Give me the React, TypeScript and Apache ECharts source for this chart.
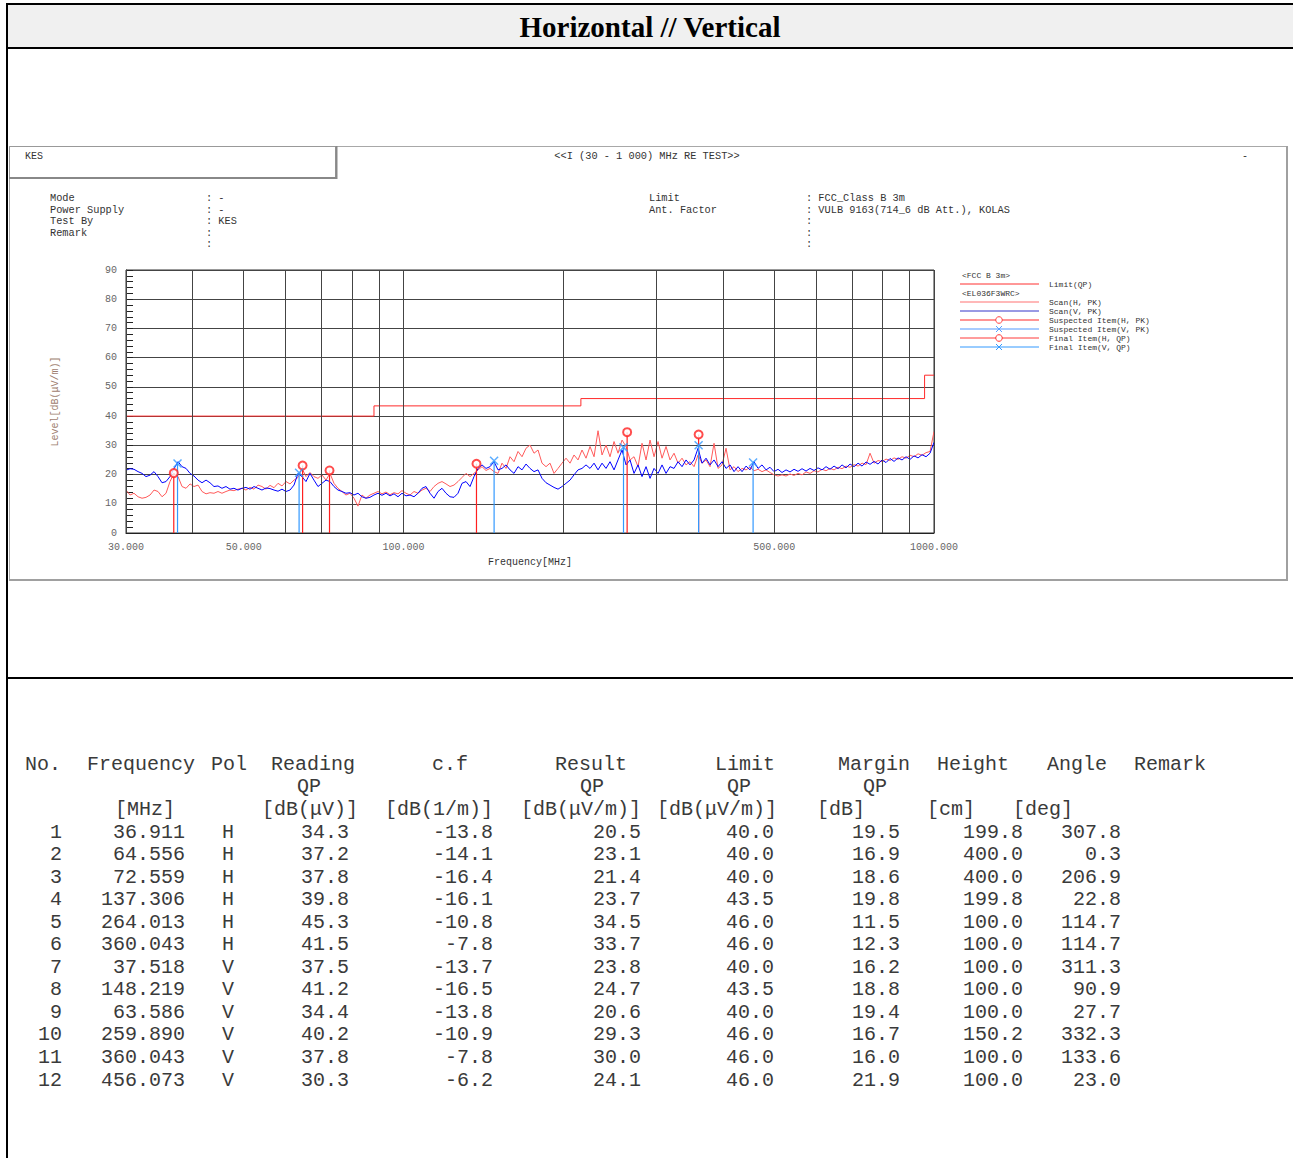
import { useEffect, useRef } from 'react';
import * as echarts from 'echarts';

// ---- scan traces (MHz / dB(μV/m)) ----
const scanFreq = [
  30.00, 30.53, 31.06, 31.61, 32.16, 32.72, 33.30, 33.88, 34.47, 35.08,
  35.69, 36.31, 36.95, 37.60, 38.26, 38.93, 39.61, 40.30, 41.01, 41.73,
  42.46, 43.19, 43.95, 44.72, 45.50, 46.30, 47.11, 47.93, 48.77, 49.62,
  50.49, 51.39, 52.29, 53.20, 54.13, 55.08, 56.05, 57.03, 58.03, 59.04,
  60.07, 61.13, 62.20, 63.28, 64.39, 65.52, 66.66, 67.83, 69.02, 70.22,
  71.46, 72.71, 73.98, 75.27, 76.59, 77.93, 79.30, 80.69, 82.10, 83.54,
  85.00, 86.49, 88.01, 89.55, 91.12, 92.71, 94.34, 95.99, 97.67, 99.38,
  101.12, 102.90, 104.70, 106.53, 108.40, 110.30, 112.23, 114.20, 116.20, 118.23,
  120.30, 122.41, 124.55, 126.73, 128.95, 131.21, 133.51, 135.85, 138.23, 140.65,
  143.11, 145.62, 148.17, 150.76, 153.40, 156.09, 158.82, 161.60, 164.43, 167.31,
  170.24, 173.22, 176.26, 179.34, 182.48, 185.68, 188.93, 192.24, 195.61, 199.03,
  202.52, 206.07, 209.67, 213.35, 217.08, 220.88, 224.75, 228.69, 232.69, 236.77,
  240.91, 245.13, 249.43, 253.79, 258.24, 262.76, 267.36, 272.04, 276.81, 281.65,
  286.59, 291.61, 296.71, 301.91, 307.20, 312.58, 318.05, 323.62, 329.29, 335.05,
  340.92, 346.89, 352.96, 359.14, 365.43, 371.83, 378.34, 384.97, 391.71, 398.57,
  405.55, 412.65, 419.88, 427.23, 434.71, 442.32, 450.07, 457.95, 465.97, 474.13,
  482.44, 490.89, 499.48, 508.23, 517.13, 526.18, 535.40, 544.78, 554.32, 564.02,
  573.90, 583.95, 594.18, 604.58, 615.17, 625.94, 636.90, 648.06, 659.41, 670.95,
  682.70, 694.66, 706.82, 719.20, 731.79, 744.61, 757.65, 770.91, 784.41, 798.15,
  812.12, 826.34, 840.82, 855.54, 870.52, 885.77, 901.28, 917.06, 933.12, 949.46,
  966.08, 983.00, 1000.0,
];

const scanH = [
  14.7, 13, 13.6, 12.4, 11.9, 12.2, 13, 14.7, 14.2, 12.4,
  13.6, 17.6, 20.4, 19.3, 15.9, 15.3, 16.8, 15.9, 16.4, 14.2,
  13.4, 13.8, 13.6, 14.2, 13.6, 14.2, 14.7, 14.5, 15, 15.3,
  14.7, 15.6, 15, 16.4, 15.9, 15, 16.3, 15.5, 17, 16.1,
  17.6, 16.8, 18.1, 19, 22.1, 19.3, 20.7, 19.3, 18.7, 19.9,
  18.1, 20.4, 17, 15.3, 14.2, 13, 13.6, 11.9, 9.2, 13,
  11.9, 13, 13.6, 14.2, 13.4, 14, 13.1, 13.8, 13.4, 14.5,
  13.6, 13, 14.2, 13.6, 14.7, 15.3, 14.2, 15.9, 17, 17.6,
  16.8, 15.9, 16.4, 17.6, 19, 20.4, 19.3, 20.4, 21.6, 22.7,
  21.4, 22.1, 21, 20.4, 23.9, 22.1, 26.1, 24.4, 27.9, 26.1,
  29, 30.1, 27.3, 28.4, 23.9, 22.7, 23.9, 20.4, 22.1, 23.9,
  25.6, 23.9, 26.7, 25, 28.4, 25.6, 29.6, 26.1, 35, 26.7,
  30.1, 26.1, 31.3, 27.3, 31.8, 29.6, 25, 26.1, 22.7, 30.7,
  25, 31.8, 26.1, 31.3, 25.6, 29.6, 25, 27.3, 23.9, 25.6,
  23.3, 24.4, 22.7, 26.7, 23.9, 25, 22.7, 30.7, 22.1, 23.3,
  29, 21.6, 22.7, 21, 22.1, 21.6, 22.5, 21.3, 21.8, 21,
  21.6, 20.7, 19.9, 19.5, 19.9, 19.5, 20.2, 19.7, 20.4, 19.9,
  20.9, 20.4, 21.3, 20.9, 21.8, 21.3, 22.1, 21.6, 22.5, 22,
  22.9, 22.5, 23.4, 22.9, 23.9, 23.4, 27.3, 23.9, 24.8, 24.4,
  25.3, 24.8, 25.7, 25.2, 26.1, 25.6, 26.6, 26.1, 27.1, 26.6,
  27.5, 27.9, 34.7,
];

const scanV = [
  21.5, 22, 21.8, 21, 20.4, 19.3, 19.8, 21, 19.3, 17.2,
  17.6, 19.3, 22, 24.4, 22.7, 22.1, 20.4, 19.5, 18.1, 17.2,
  18.1, 17.2, 15.9, 16.1, 15.3, 15.9, 15, 15.3, 14.7, 15.3,
  15.6, 15, 15.9, 15.3, 14.7, 15.4, 15.2, 14.7, 14.3, 15,
  14.2, 14.7, 16.4, 20.4, 19.3, 17.6, 20.4, 18.1, 15.9, 17,
  18.1, 17.6, 15.9, 14.7, 14.2, 13.6, 13.8, 13, 13.6, 12.4,
  11.9, 12.2, 13, 13.6, 12.9, 13.6, 12.7, 13.4, 12.4, 13.6,
  12.7, 13, 12.4, 13.6, 15.3, 15.9, 13.6, 11.9, 14.2, 15.3,
  13.6, 12.4, 12.2, 13.6, 17, 17.6, 15.9, 19.3, 22.1, 23.3,
  22.1, 22.7, 24.4, 21.6, 22.1, 23.3, 21.6, 20.4, 22.7, 21.6,
  23.6, 22.1, 21, 21.6, 18.7, 17.2, 16.4, 15.6, 15, 15.9,
  17, 18.1, 19.9, 21.6, 22.1, 23.3, 22.1, 23.9, 21.6, 23.9,
  22.1, 24.4, 21.6, 25, 28.4, 23.3, 25, 20.4, 23.3, 19.3,
  22.7, 18.7, 22.1, 20.4, 23.3, 20.4, 22.7, 22.1, 24.4, 22.7,
  25, 23.3, 25, 29, 23.9, 25.6, 23.3, 25, 22.7, 24.4,
  22.1, 23.3, 21, 22.7, 21, 22.9, 21.6, 24.4, 22.1, 23.3,
  21.6, 22.5, 21, 21.8, 20.7, 21.6, 20.9, 21.8, 21.1, 22,
  21.2, 22.1, 21.4, 22.3, 21.6, 22.7, 21.8, 22.9, 22, 23.3,
  22.3, 23.6, 22.7, 23.9, 22.9, 24.3, 23.5, 24.5, 23.6, 25,
  24.1, 25.5, 24.5, 25.7, 25, 26.1, 25.2, 26.4, 25.7, 26.8,
  26.1, 27.3, 31,
];

// ---- limit (FCC Class B 3m) ----
const limitFreq = [30, 88, 216, 960, 1000];
const limitLevel = [40, 43.5, 46, 54, 54];

// ---- axis ticks ----
const gridFreqs = [40, 60, 70, 80, 90, 200, 300, 400, 600, 700, 800, 900];
const freqLabelTicks = [30, 50, 100, 500, 1000];

// ---- final items table ----
const itemNo = [1, 2, 3, 4, 5, 6, 7, 8, 9, 10, 11, 12];
const itemFreq = [36.911, 64.556, 72.559, 137.306, 264.013, 360.043, 37.518, 148.219, 63.586, 259.890, 360.043, 456.073];
const itemPol = ['H', 'H', 'H', 'H', 'H', 'H', 'V', 'V', 'V', 'V', 'V', 'V'];
const itemReading = [34.3, 37.2, 37.8, 39.8, 45.3, 41.5, 37.5, 41.2, 34.4, 40.2, 37.8, 30.3];
const itemCf = [-13.8, -14.1, -16.4, -16.1, -10.8, -7.8, -13.7, -16.5, -13.8, -10.9, -7.8, -6.2];
const itemResult = [20.5, 23.1, 21.4, 23.7, 34.5, 33.7, 23.8, 24.7, 20.6, 29.3, 30.0, 24.1];
const itemLimit = [40.0, 40.0, 40.0, 43.5, 46.0, 46.0, 40.0, 43.5, 40.0, 46.0, 46.0, 46.0];
const itemMargin = [19.5, 16.9, 18.6, 19.8, 11.5, 12.3, 16.2, 18.8, 19.4, 16.7, 16.0, 21.9];
const itemHeight = [199.8, 400.0, 400.0, 199.8, 100.0, 100.0, 100.0, 100.0, 100.0, 150.2, 100.0, 100.0];
const itemAngle = [307.8, 0.3, 206.9, 22.8, 114.7, 114.7, 311.3, 90.9, 27.7, 332.3, 133.6, 23.0];

const MONO = '"Liberation Mono", "DejaVu Sans Mono", monospace';

function txt(text: string, x: number, y: number, size: number, align = 'left', fill = '#333', extra: any = {}) {
  return {
    type: 'text',
    x,
    y,
    silent: true,
    style: {
      text,
      fill,
      fontSize: size,
      fontFamily: MONO,
      align,
      textAlign: align,
      verticalAlign: 'middle',
      textVerticalAlign: 'middle',
      ...extra,
    },
  };
}

function hline(x1: number, x2: number, y: number, stroke: string, w: number) {
  return { type: 'line', silent: true, shape: { x1, y1: y, x2, y2: y }, style: { stroke, lineWidth: w } };
}
function vline(x: number, y1: number, y2: number, stroke: string, w: number) {
  return { type: 'line', silent: true, shape: { x1: x, y1, x2: x, y2 }, style: { stroke, lineWidth: w } };
}

export default function App() {
  const ref = useRef<HTMLDivElement>(null);

  useEffect(() => {
    if (!ref.current) return;
    const chart = echarts.init(ref.current, undefined, { renderer: 'svg' });

    const hIdx = itemPol.map((p, i) => (p === 'H' ? i : -1)).filter((i) => i >= 0);
    const vIdx = itemPol.map((p, i) => (p === 'V' ? i : -1)).filter((i) => i >= 0);
    const hPts = hIdx.map((i) => [itemFreq[i], itemResult[i]]);
    const vPts = vIdx.map((i) => [itemFreq[i], itemResult[i]]);

    const stemRender = (color: string) => (params: any, api: any) => {
      const f = api.value(0);
      const v = api.value(1);
      const p0 = api.coord([f, 0]);
      const p1 = api.coord([f, v]);
      return {
        type: 'line',
        shape: { x1: p0[0], y1: p0[1], x2: p1[0], y2: p1[1] },
        style: { stroke: color, lineWidth: 1.2 },
      };
    };

    const g: any[] = [];
    // page frame
    g.push({ type: 'rect', silent: true, shape: { x: 8, y: 5, width: 1285, height: 42 }, style: { fill: '#f0f0f0' } });
    g.push(vline(7, 3, 1158, '#000', 2));
    g.push(hline(6, 1293, 4, '#000', 2));
    g.push(hline(6, 1293, 48, '#000', 2));
    g.push(hline(8, 1293, 678, '#000', 2));
    g.push({
      type: 'text', x: 650, y: 27, silent: true,
      style: {
        text: 'Horizontal // Vertical', fill: '#000', fontSize: 29, fontWeight: 'bold',
        fontFamily: '"Liberation Serif", "Times New Roman", serif',
        align: 'center', textAlign: 'center', verticalAlign: 'middle', textVerticalAlign: 'middle',
      },
    });
    // chart box
    g.push({ type: 'rect', silent: true, shape: { x: 9.5, y: 146.5, width: 1277, height: 433 }, style: { fill: 'none', stroke: '#a8a8a8', lineWidth: 1 } });
    g.push(hline(9, 1288, 580, '#a0a0a0', 2));
    g.push(vline(1287, 146, 581, '#a0a0a0', 2));
    g.push({ type: 'rect', silent: true, shape: { x: 9.5, y: 146.5, width: 326, height: 31 }, style: { fill: 'none', stroke: '#999', lineWidth: 1 } });
    g.push(hline(9, 337, 178, '#888', 2));
    g.push(vline(336.5, 146, 179, '#888', 2));

    // chart header texts
    g.push(txt('KES', 25, 156, 10));
    g.push(txt('<<I (30 - 1 000) MHz RE TEST>>', 647, 156, 10.3, 'center'));
    g.push(txt('-', 1242, 156, 10));
    const leftLabels = ['Mode', 'Power Supply', 'Test By', 'Remark'];
    const leftVals = [': -', ': -', ': KES', ':', ':'];
    const rowsY = [198, 209.5, 221, 232.5, 244];
    leftLabels.forEach((t, i) => g.push(txt(t, 50, rowsY[i], 10.3)));
    leftVals.forEach((t, i) => g.push(txt(t, 206, rowsY[i], 10.3)));
    const rightLabels = ['Limit', 'Ant. Factor'];
    const rightVals = [': FCC_Class B 3m', ': VULB 9163(714_6 dB Att.), KOLAS', ':', ':', ':'];
    rightLabels.forEach((t, i) => g.push(txt(t, 649, rowsY[i], 10.3)));
    rightVals.forEach((t, i) => g.push(txt(t, 806, rowsY[i], 10.3)));

    // legend
    const LX1 = 960, LX2 = 1039, LT = 1049;
    g.push(txt('<FCC B 3m>', 962, 275, 8));
    g.push(hline(LX1, LX2, 284, '#ff3030', 1));
    g.push(txt('Limit(QP)', LT, 284, 8));
    g.push(txt('<EL036F3WRC>', 962, 293, 8));
    g.push(hline(LX1, LX2, 302, '#ffa0a0', 1.5));
    g.push(txt('Scan(H, PK)', LT, 302, 8));
    g.push(hline(LX1, LX2, 311, '#3535c8', 1));
    g.push(txt('Scan(V, PK)', LT, 311, 8));
    g.push(hline(LX1, LX2, 320, '#ff7070', 1.5));
    g.push({ type: 'circle', silent: true, shape: { cx: 999, cy: 320, r: 3.3 }, style: { fill: '#fff', stroke: '#ff4040', lineWidth: 1 } });
    g.push(txt('Suspected Item(H, PK)', LT, 320, 8));
    g.push(hline(LX1, LX2, 329, '#a8ccff', 2));
    g.push({ type: 'line', silent: true, shape: { x1: 996, y1: 326, x2: 1002, y2: 332 }, style: { stroke: '#5aa0ff', lineWidth: 1 } });
    g.push({ type: 'line', silent: true, shape: { x1: 1002, y1: 326, x2: 996, y2: 332 }, style: { stroke: '#5aa0ff', lineWidth: 1 } });
    g.push(txt('Suspected Item(V, PK)', LT, 329, 8));
    g.push(hline(LX1, LX2, 338, '#ff3a3a', 1));
    g.push({ type: 'circle', silent: true, shape: { cx: 999, cy: 338, r: 3.3 }, style: { fill: '#fff', stroke: '#ff3030', lineWidth: 1 } });
    g.push(txt('Final Item(H, QP)', LT, 338, 8));
    g.push(hline(LX1, LX2, 347, '#3399ff', 1));
    g.push({ type: 'line', silent: true, shape: { x1: 996, y1: 344, x2: 1002, y2: 350 }, style: { stroke: '#3399ff', lineWidth: 1 } });
    g.push({ type: 'line', silent: true, shape: { x1: 1002, y1: 344, x2: 996, y2: 350 }, style: { stroke: '#3399ff', lineWidth: 1 } });
    g.push(txt('Final Item(V, QP)', LT, 347, 8));

    // table
    const TS = 20;
    const TC = '#3a3a3a';
    const head1: [string, number][] = [
      ['No.', 25], ['Frequency', 87], ['Pol', 211], ['Reading', 271], ['c.f', 432], ['Result', 555],
      ['Limit', 715], ['Margin', 838], ['Height', 937], ['Angle', 1047], ['Remark', 1134],
    ];
    const head2: [string, number][] = [['QP', 297], ['QP', 580], ['QP', 727], ['QP', 863]];
    const head3: [string, number][] = [
      ['[MHz]', 115], ['[dB(μV)]', 262], ['[dB(1/m)]', 385], ['[dB(μV/m)]', 521], ['[dB(μV/m)]', 657],
      ['[dB]', 817], ['[cm]', 927], ['[deg]', 1013],
    ];
    head1.forEach(([t, x]) => g.push(txt(t, x, 764, TS, 'left', TC)));
    head2.forEach(([t, x]) => g.push(txt(t, x, 786.5, TS, 'left', TC)));
    head3.forEach(([t, x]) => g.push(txt(t, x, 809, TS, 'left', TC)));
    itemNo.forEach((n, i) => {
      const y = 832 + 22.55 * i;
      g.push(txt(String(n), 62, y, TS, 'right', TC));
      g.push(txt(itemFreq[i].toFixed(3), 185, y, TS, 'right', TC));
      g.push(txt(itemPol[i], 222, y, TS, 'left', TC));
      g.push(txt(itemReading[i].toFixed(1), 349, y, TS, 'right', TC));
      g.push(txt(itemCf[i].toFixed(1), 493, y, TS, 'right', TC));
      g.push(txt(itemResult[i].toFixed(1), 641, y, TS, 'right', TC));
      g.push(txt(itemLimit[i].toFixed(1), 774, y, TS, 'right', TC));
      g.push(txt(itemMargin[i].toFixed(1), 900, y, TS, 'right', TC));
      g.push(txt(itemHeight[i].toFixed(1), 1023, y, TS, 'right', TC));
      g.push(txt(itemAngle[i].toFixed(1), 1121, y, TS, 'right', TC));
    });

    const option: any = {
      animation: false,
      backgroundColor: '#fff',
      grid: { left: 126, top: 270, width: 808, height: 263, show: true, borderColor: '#333', borderWidth: 1, containLabel: false },
      xAxis: {
        type: 'log', logBase: 10, min: 30, max: 1000,
        name: 'Frequency[MHz]', nameLocation: 'middle', nameGap: 24,
        nameTextStyle: { color: '#333', fontSize: 10, fontFamily: MONO },
        axisLine: { show: true, lineStyle: { color: '#222', width: 1 } },
        axisTick: { show: false }, axisLabel: { show: false },
        splitLine: { show: false }, minorTick: { show: false }, minorSplitLine: { show: false },
      },
      yAxis: {
        type: 'value', min: 0, max: 90, interval: 10,
        name: 'Level[dB(μV/m)]', nameLocation: 'middle', nameRotate: 90, nameGap: 66,
        nameTextStyle: { color: '#a08070', fontSize: 10, fontFamily: MONO },
        axisLine: { show: true, lineStyle: { color: '#222', width: 1 } },
        axisTick: { show: true, inside: true, length: 7, lineStyle: { color: '#222' } },
        minorTick: { show: true, splitNumber: 5, length: 7, lineStyle: { color: '#222' } },
        axisLabel: { color: '#666', fontSize: 10, fontFamily: MONO, margin: 9 },
        splitLine: { show: true, lineStyle: { color: '#444', width: 1 } },
      },
      graphic: { elements: g },
      series: [
        {
          name: 'Scan(H, PK)', type: 'line', showSymbol: false, symbol: 'none', silent: true,
          data: scanFreq.map((f, i) => [f, scanH[i]]),
          lineStyle: { color: '#ff5a5a', width: 1 }, z: 2,
          markLine: {
            silent: true, symbol: ['none', 'none'], animation: false,
            lineStyle: { color: '#444', width: 1, type: 'solid' },
            label: { show: false },
            emphasis: { disabled: true },
            data: gridFreqs.map((f) => ({ xAxis: f })),
          },
        },
        {
          name: 'Scan(V, PK)', type: 'line', showSymbol: false, symbol: 'none', silent: true,
          data: scanFreq.map((f, i) => [f, scanV[i]]),
          lineStyle: { color: '#0000ff', width: 1 }, z: 3,
        },
        {
          name: 'Limit(QP)', type: 'line', step: 'end', showSymbol: false, symbol: 'none', silent: true,
          data: limitFreq.map((f, i) => [f, limitLevel[i]]),
          lineStyle: { color: '#ff2a2a', width: 1 }, z: 4,
          markLine: {
            silent: true, symbol: ['none', 'none'], animation: false,
            lineStyle: { color: '#444', width: 1, type: 'solid' },
            emphasis: { disabled: true },
            label: {
              show: true, position: 'start', distance: 9, color: '#666', fontSize: 10, fontFamily: MONO,
              formatter: (p: any) => Number(p.value).toFixed(3),
            },
            data: freqLabelTicks.map((f) => ({ xAxis: f })),
          },
        },
        {
          name: 'Final stems H', type: 'custom', silent: true, z: 5,
          renderItem: stemRender('#ff2020'), data: hPts,
        },
        {
          name: 'Final stems V', type: 'custom', silent: true, z: 6,
          renderItem: stemRender('#3399ff'), data: vPts,
        },
        {
          name: 'Final Item(H, QP)', type: 'scatter', silent: true, z: 7,
          symbol: 'emptyCircle', symbolSize: 8, data: hPts,
          itemStyle: { color: '#ff2020', borderColor: '#ff2020', borderWidth: 1.2 },
        },
        {
          name: 'Final Item(V, QP)', type: 'scatter', silent: true, z: 8,
          symbol: 'path://M0 0 L10 10 M10 0 L0 10', symbolSize: 8, data: vPts,
          itemStyle: { color: 'none', borderColor: '#3399ff', borderWidth: 1.5 },
        },
      ],
    };

    chart.setOption(option);
    return () => chart.dispose();
  }, []);

  return (
    <div
      ref={ref}
      style={{ position: 'absolute', left: 0, top: 0, width: 1293, height: 1158, background: '#fff' }}
    />
  );
}
